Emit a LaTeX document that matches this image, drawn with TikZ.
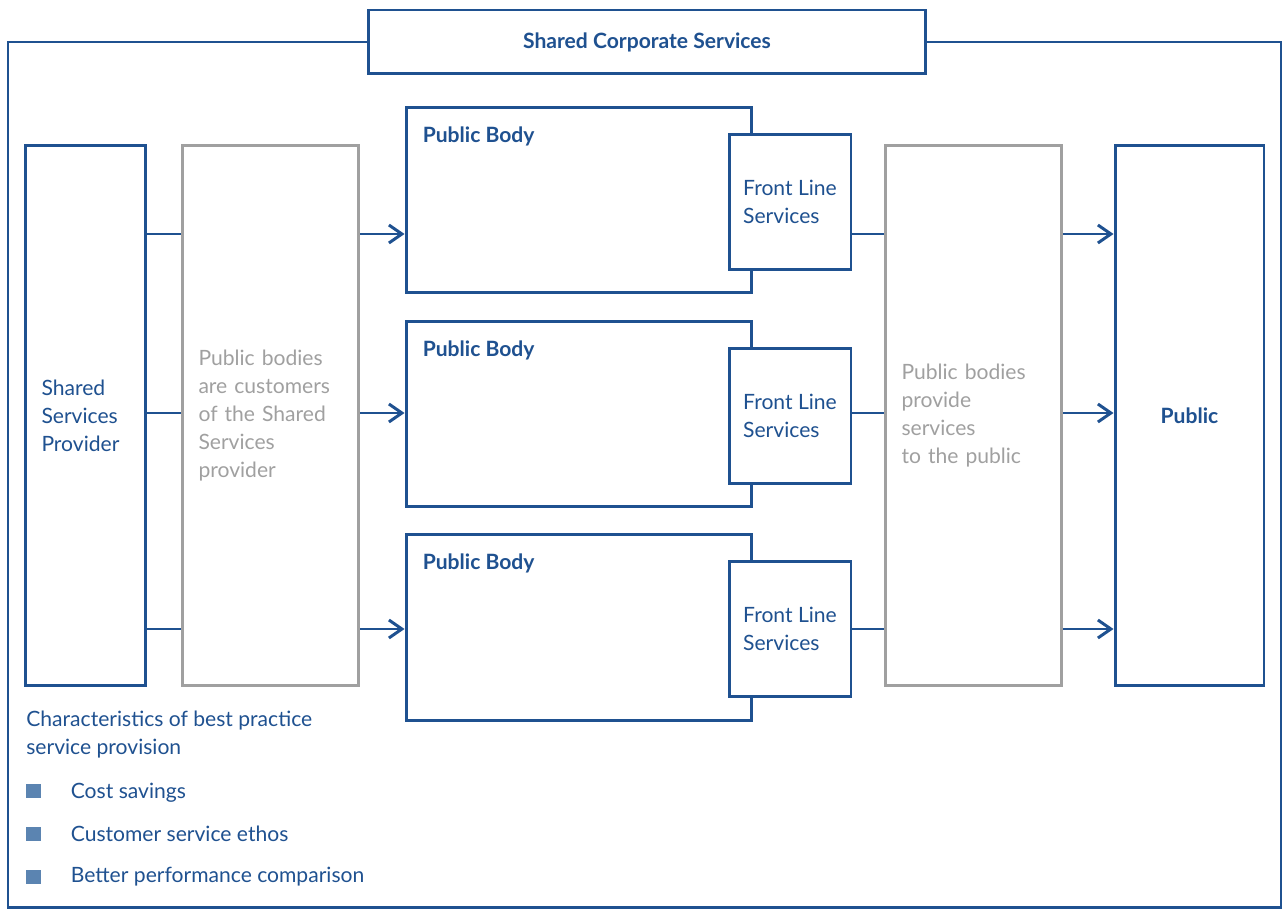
\documentclass[tikz,border=0pt]{standalone}
\usepackage{fontspec}
\setmainfont{Lato}
\usetikzlibrary{arrows.meta}

\definecolor{sblue}{HTML}{1F5190}
\definecolor{sgrey}{HTML}{A0A0A0}
\definecolor{bullet}{HTML}{5B84B1}

\newcommand{\bodyfont}{\fontsize{12}{15.9}\selectfont}
\newcommand{\headfont}{\fontsize{12}{15.9}\selectfont\bfseries}

\tikzset{
    box/.style={draw=sblue, line width=1.7pt, fill=white, text=sblue,
        font=\bodyfont, align=left, inner xsep=0.33cm},
    greybox/.style={draw=sgrey, line width=1.7pt, text=sgrey,
        font=\bodyfont, align=left, inner xsep=0.33cm},
    link/.style={draw=sblue, line width=1.7pt},
    arrow/.style={link, -{Straight Barb[length=2.6mm, width=3.6mm, line width=1.7pt]}},
    square/.style={fill=bullet, minimum size=0.29cm, inner sep=0pt},
}

\begin{document}
\begin{tikzpicture}[x=0.02cm, y=-0.02cm]
\useasboundingbox (0,0) rectangle (1282,909);

\node[box, font=\headfont, minimum width=11.16cm, minimum height=1.28cm] (title) at (647,42)
{Shared Corporate Services};
\draw[link] (title.west) -| (8,907) -| (1281,42) -- (title.east);

\node[box, text width=1.76cm, minimum height=10.82cm] (ssp) at (85.5,415.5)
{Shared\\Services\\Provider};
\node[greybox, text width=2.88cm, minimum height=10.82cm] (cust) at (270.5,415.5)
{Public bodies\\are customers\\of the Shared\\Services\\provider};

\node[box, minimum width=6.92cm, minimum height=3.72cm] (pb1) at (579,200) {};
\node[box, minimum width=6.92cm, minimum height=3.72cm] (pb2) at (579,414) {};
\node[box, minimum width=6.92cm, minimum height=3.72cm] (pb3) at (579,627.5) {};

\node[anchor=north west, text=sblue, font=\headfont] at ([xshift=0.24cm, yshift=-0.3cm]pb1.north west)
{Public Body};
\node[anchor=north west, text=sblue, font=\headfont] at ([xshift=0.24cm, yshift=-0.3cm]pb2.north west)
{Public Body};
\node[anchor=north west, text=sblue, font=\headfont] at ([xshift=0.24cm, yshift=-0.3cm]pb3.north west)
{Public Body};

\node[box, inner xsep=0.15cm, minimum width=2.44cm, minimum height=2.72cm] (fls1) at (790,202) {Front Line\\Services};
\node[box, inner xsep=0.15cm, minimum width=2.44cm, minimum height=2.72cm] (fls2) at (790,416) {Front Line\\Services};
\node[box, inner xsep=0.15cm, minimum width=2.44cm, minimum height=2.72cm] (fls3) at (790,629) {Front Line\\Services};

\node[greybox, text width=2.88cm, minimum height=10.82cm] (prov) at (973.5,415.5)
{Public bodies\\provide\\services\\to the public};
\node[box, font=\headfont, align=center, minimum width=2.98cm, minimum height=10.82cm] (pub) at (1189.5,415.5)
{Public};

\coordinate (r1) at (0,234);
\coordinate (r2) at (0,413);
\coordinate (r3) at (0,629);

\draw[link] (ssp.east |- r1) -- (cust.west |- r1);
\draw[link] (ssp.east |- r2) -- (cust.west |- r2);
\draw[link] (ssp.east |- r3) -- (cust.west |- r3);
\draw[arrow] (cust.east |- r1) -- (pb1.west |- r1);
\draw[arrow] (cust.east |- r2) -- (pb2.west |- r2);
\draw[arrow] (cust.east |- r3) -- (pb3.west |- r3);
\draw[link] (fls1.east |- r1) -- (prov.west |- r1);
\draw[link] (fls2.east |- r2) -- (prov.west |- r2);
\draw[link] (fls3.east |- r3) -- (prov.west |- r3);
\draw[arrow] (prov.east |- r1) -- (pub.west |- r1);
\draw[arrow] (prov.east |- r2) -- (pub.west |- r2);
\draw[arrow] (prov.east |- r3) -- (pub.west |- r3);

\node[anchor=north west, text=sblue, font=\bodyfont, align=left, inner sep=0pt] (crit) at (26,711)
{Characteristics of best practice\\service provision};

\node[square] (b1) at (33.5,791) {};
\node[square] (b2) at (33.5,834) {};
\node[square] (b3) at (33.5,877) {};
\node[anchor=west, text=sblue, font=\bodyfont, inner sep=0pt] at ([xshift=0.74cm, yshift=-0.03cm]b1.center) {Cost savings};
\node[anchor=west, text=sblue, font=\bodyfont, inner sep=0pt] at ([xshift=0.74cm]b2.center) {Customer service ethos};
\node[anchor=west, text=sblue, font=\bodyfont, inner sep=0pt] at ([xshift=0.74cm]b3.center) {Better performance comparison};

\end{tikzpicture}
\end{document}
